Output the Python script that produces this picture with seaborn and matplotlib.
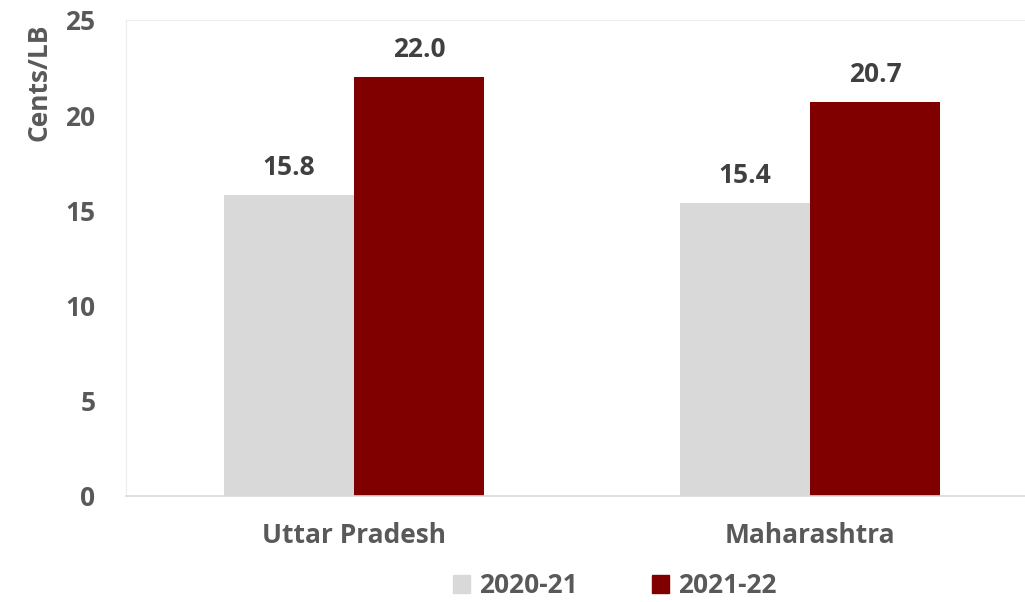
import pandas as pd
import matplotlib
matplotlib.use('Agg')
import matplotlib.pyplot as plt
import seaborn as sns

# ==================== 数据 ====================
states = ['Uttar Pradesh', 'Maharashtra']
seasons = ['2020-21', '2021-22']
price_2020_21 = [15.8, 15.4]
price_2021_22 = [22.0, 20.7]

df = pd.DataFrame({
    'state': states * 2,
    'season': [seasons[0]] * 2 + [seasons[1]] * 2,
    'price': price_2020_21 + price_2021_22,
})

sns.set_style('white')
plt.rcParams['font.family'] = ['Open Sans', 'DejaVu Sans']
plt.rcParams['font.weight'] = 'bold'

text_col = '#595959'
palette = {'2020-21': '#D9D9D9', '2021-22': '#800000'}
fs = 19

fig = plt.figure(figsize=(10.25, 6.02), dpi=100)
ax = fig.add_axes([126 / 1025, 1 - 496 / 602, 912 / 1025, 476 / 602])

sns.barplot(data=df, x='state', y='price', hue='season', order=states,
            hue_order=seasons, palette=palette, width=0.57, ax=ax,
            saturation=1, legend=False, linewidth=0)

for cont in ax.containers:
    ax.bar_label(cont, fmt='%.1f', padding=10, fontsize=fs,
                 fontweight='bold', color='#404040')

ax.set_xlim(-0.5, 1.5)
ax.set_ylim(0, 25)
ax.set_yticks(range(0, 26, 5))
ax.set_xlabel('')
ax.set_ylabel('Cents/LB', fontsize=fs, fontweight='bold', color=text_col)
ax.yaxis.set_label_coords(-0.081, 0.87)

for s in ['top', 'left', 'right']:
    ax.spines[s].set_color('#EDEDED')
ax.spines['bottom'].set_color('#D9D9D9')
ax.spines['bottom'].set_linewidth(1.2)

ax.tick_params(axis='y', length=0, pad=22, labelsize=fs, labelcolor=text_col)
ax.tick_params(axis='x', length=0, pad=19, labelsize=fs, labelcolor=text_col)
ax.set_xticks([-0.5, 0.5, 1.5], minor=True)
ax.tick_params(axis='x', which='minor', length=8, color='#D9D9D9', width=1.2)

handles = [plt.Rectangle((0, 0), 1, 1, color=palette[s]) for s in seasons]
leg = fig.legend(handles, seasons, loc='center', bbox_to_anchor=(0.6, 0.027),
                 ncol=2, frameon=False, handlelength=0.65, handleheight=0.65,
                 handletextpad=0.35, columnspacing=2.8, fontsize=fs)
for t in leg.get_texts():
    t.set_color(text_col)
    t.set_fontweight('bold')

fig.savefig('out.png', dpi=100)
plt.close(fig)
